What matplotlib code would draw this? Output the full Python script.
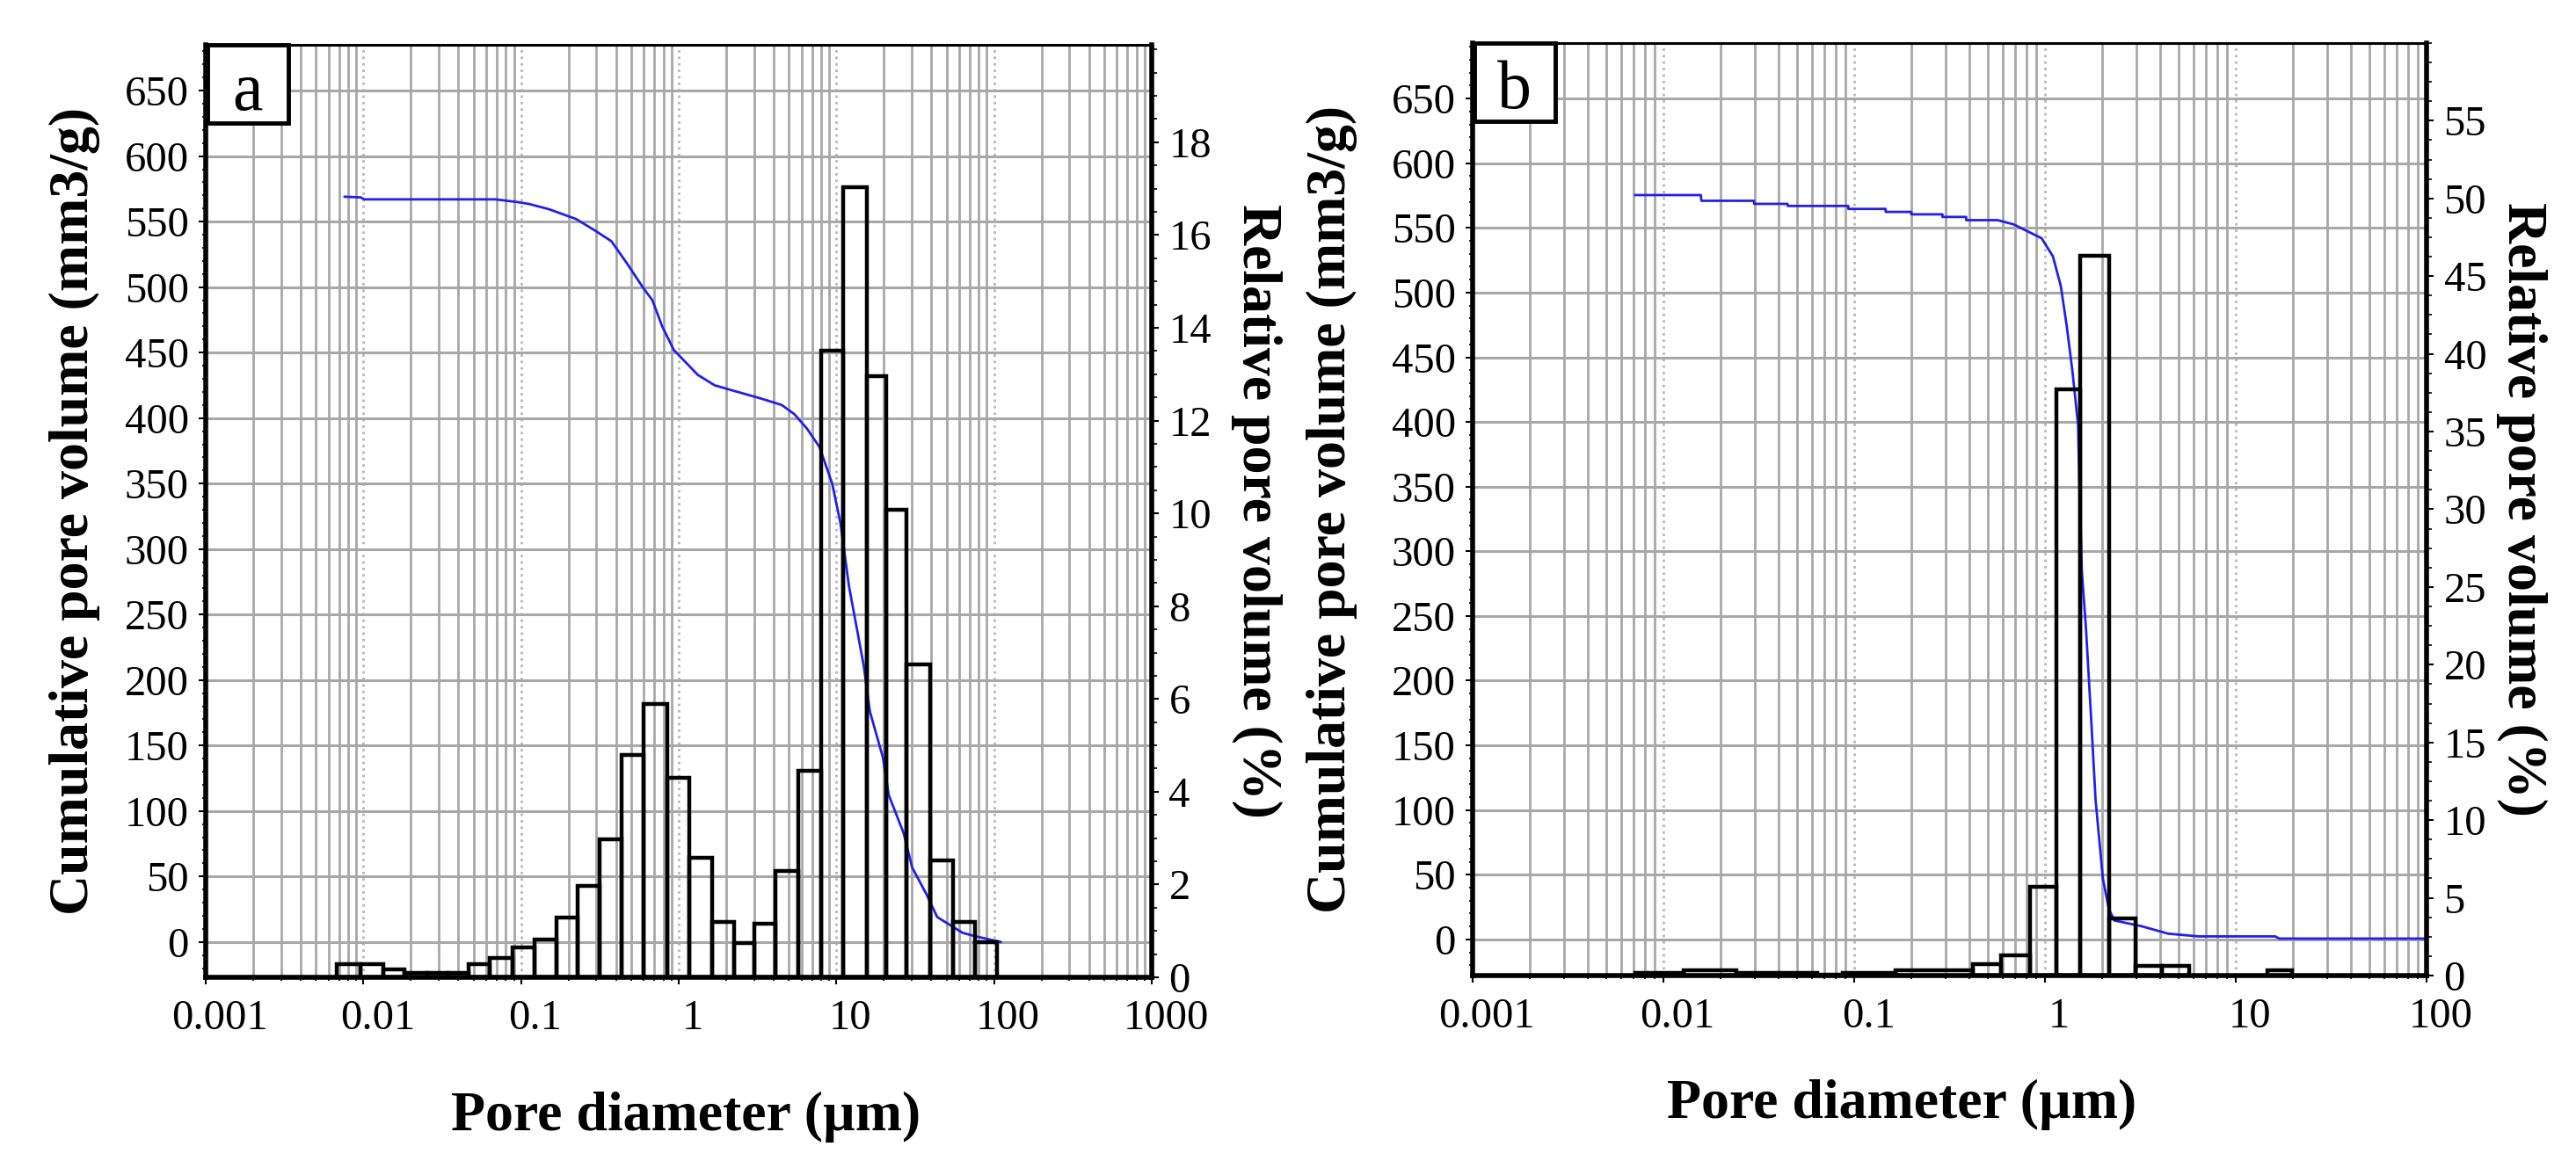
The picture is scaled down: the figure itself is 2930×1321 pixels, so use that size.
import numpy as np
import matplotlib.pyplot as plt
from matplotlib.patches import Rectangle
from matplotlib.transforms import ScaledTranslation
from matplotlib.ticker import MultipleLocator, LogLocator, FixedLocator, NullFormatter

plt.rcParams['font.family'] = ['Liberation Serif', 'DejaVu Serif']

# ---------- panel a ----------
a_edges = [0.00679, 0.00957, 0.0133, 0.0182, 0.0254, 0.0347, 0.0462, 0.0633, 0.0881,
           0.122, 0.167, 0.229, 0.314, 0.433, 0.60, 0.845, 1.17, 1.63, 2.25, 3.02,
           4.1, 5.75, 7.95, 10.96, 15.7, 20.6, 27.9, 39.1, 55.1, 75.9, 104]
a_rel = [0.29, 0.29, 0.18, 0.10, 0.10, 0.10, 0.29, 0.42, 0.65, 0.82, 1.29, 1.97,
         2.97, 4.8, 5.9, 4.3, 2.58, 1.2, 0.74, 1.16, 2.3, 4.46, 13.5, 17.04,
         12.96, 10.08, 6.74, 2.52, 1.2, 0.76]
a_cum_d = [0.0076, 0.0096, 0.0101, 0.0689, 0.094, 0.112, 0.15, 0.223, 0.296, 0.374,
           0.47, 0.59, 0.68, 0.785, 0.93, 1.32, 1.69, 2.44, 3.31, 4.5, 5.41, 6.5,
           7.8, 9.4, 10.6, 12.0, 14.9, 16.3, 19.7, 21.5, 26.7, 30.2, 37.4, 43.6,
           52.5, 63, 75.9, 110]
a_cum_v = [569, 568.5, 567, 567, 565, 563.5, 559.5, 552, 543, 535, 518, 500, 490,
           470, 452, 433, 425, 419.5, 415, 410, 403, 392, 378, 350, 320, 272, 211,
           176, 141, 112, 83, 57, 36, 19, 13, 7, 4.4, 0]

# ---------- panel b ----------
b_edges = [0.0071, 0.0127, 0.024, 0.0637, 0.0867, 0.164, 0.42, 0.59, 0.83, 1.15,
           1.53, 2.16, 2.98, 4.12, 5.69]
b_rel = [0.15, 0.35, 0.15, 0.05, 0.15, 0.35, 0.73, 1.3, 5.7, 37.7, 46.3, 3.7, 0.6, 0.6]
b_extra_edges = [14.7, 19.8]
b_extra_rel = [0.35]
b_cum_d = [0.00711, 0.0157, 0.0158, 0.0298, 0.0299, 0.0447, 0.0448, 0.093, 0.0931,
           0.146, 0.1461, 0.199, 0.1991, 0.29, 0.2901, 0.386, 0.3861, 0.565, 0.683,
           0.787, 0.96, 1.10, 1.21, 1.30, 1.39, 1.49, 1.51, 1.56, 1.64, 1.75, 1.84,
           2.01, 2.16, 2.31, 3.2, 4.42, 6.39, 16.1, 16.9, 100]
b_cum_v = [575.4, 575.4, 571, 571, 568.6, 568.6, 567, 567, 564.7, 564.7, 562.4,
           562.4, 560.5, 560.5, 558.5, 558.5, 556, 556, 552.8, 548.3, 542, 528, 505,
           474, 440, 398, 358, 284, 240, 167, 108, 47, 23.4, 14.6, 10.2, 4.4, 2.3,
           2.3, 0.6, 0.6]

fig = plt.figure(figsize=(29.3, 13.21), dpi=100)

TICK = 35
LAB = 46


def make_panel(rect, letter, xmax, ylim_l, ylim_r, r_major, r_minor,
               edges, rel, cum_d, cum_v, lab_pos, extra=None):
    ax = fig.add_axes(rect)
    ax.set_xscale('log')
    ax.set_xlim(0.001, xmax)
    ax.set_ylim(*ylim_l)
    ax.set_yticks(np.arange(0, 651, 50))
    ax.yaxis.set_minor_locator(MultipleLocator(10))
    decades = [10.0 ** k for k in range(-3, int(round(np.log10(xmax))) + 1)]
    ax.xaxis.set_major_locator(FixedLocator(decades))
    ax.set_xticklabels(['%g' % v for v in decades])
    ax.xaxis.set_minor_locator(LogLocator(base=10, subs=np.arange(2, 10), numticks=20))
    ax.xaxis.set_minor_formatter(NullFormatter())

    ax.grid(True, which='minor', axis='x', color='#a8a8a8', lw=2.0, ls='-')
    ax.grid(True, which='major', axis='x', color='#b8b8b8', lw=2.0, ls=':')
    ax.grid(True, which='major', axis='y', color='#a8a8a8', lw=2.2, ls='-')
    ax.set_axisbelow(True)

    ax.plot(cum_d, cum_v, color='#2020ee', lw=2.0, zorder=5)

    ax.tick_params(axis='y', which='major', labelsize=TICK, direction='out',
                   length=6, width=1.5, pad=8)
    ax.tick_params(axis='x', which='major', labelsize=TICK, direction='out',
                   length=6, width=1.5, pad=12)
    ax.tick_params(axis='both', which='minor', direction='out', length=3, width=1.2)
    shift = ScaledTranslation(16 / 100, 0, fig.dpi_scale_trans)
    for lab in ax.get_xticklabels():
        lab.set_transform(lab.get_transform() + shift)
    for s in ['left', 'bottom']:
        ax.spines[s].set_linewidth(4)
    ax.spines['top'].set_linewidth(2.2)
    ax.spines['right'].set_visible(False)

    ax.set_xlabel('Pore diameter (µm)', fontsize=LAB, fontweight='bold')
    ax.xaxis.set_label_coords(lab_pos[0], lab_pos[1])
    ax.xaxis.label.set_verticalalignment('center')
    ax.set_ylabel('Cumulative pore volume (mm3/g)', fontsize=LAB, fontweight='bold')
    ax.yaxis.set_label_coords(lab_pos[2], 0.5)
    ax.yaxis.label.set_verticalalignment('center')

    ax2 = ax.twinx()
    ax2.set_ylim(*ylim_r)
    ticks = np.arange(0, ylim_r[1] - 0.5 * r_major, r_major)
    ax2.set_yticks(ticks)
    ax2.set_yticklabels(['%g' % t for t in ticks])
    ax2.yaxis.set_minor_locator(MultipleLocator(r_minor))
    ax2.tick_params(axis='y', which='major', labelsize=TICK, direction='out',
                    length=6, width=1.5, pad=8)
    ax2.tick_params(axis='y', which='minor', direction='out', length=4, width=1.2)
    for s in ['left', 'top', 'bottom']:
        ax2.spines[s].set_visible(False)
    ax2.spines['right'].set_linewidth(4)

    ax2.bar(edges[:-1], rel, width=np.diff(edges), align='edge', facecolor='none',
            edgecolor='black', linewidth=3.2, zorder=3)
    if extra is not None:
        ax2.bar(extra[0][:-1], extra[1], width=np.diff(extra[0]), align='edge',
                facecolor='none', edgecolor='black', linewidth=3.2, zorder=3)
    ax2.set_ylabel('Relative pore volume (%)', fontsize=LAB, fontweight='bold',
                   rotation=270)
    ax2.yaxis.set_label_coords(lab_pos[3], 0.5)
    ax2.yaxis.label.set_verticalalignment('center')
    ax2.set_xlim(0.001, xmax)

    # letter box in the top-left corner (about 92 x 89 px)
    w_px, h_px = rect[2] * 2930, rect[3] * 1321
    bw, bh = 92 / w_px, 89 / h_px
    ax2.add_patch(Rectangle((0.0015, 1 - bh), bw, bh, transform=ax.transAxes,
                            facecolor='white', edgecolor='black', linewidth=3.5,
                            zorder=10, clip_on=False))
    ax2.text(0.0015 + bw / 2, 1 - 74 / h_px, letter, transform=ax.transAxes,
             fontsize=56, ha='center', va='baseline', zorder=11)
    return ax, ax2


make_panel([0.0799, 0.1582, 0.3672, 0.8032], 'a', 1000, (-27, 685), (0, 20.1), 2, 0.5,
           a_edges, a_rel, a_cum_d, a_cum_v, (0.507, -0.150, -0.139, 1.111))
make_panel([0.5717, 0.1597, 0.3703, 0.8033], 'b', 100, (-28, 693), (0, 60), 5, 1.25,
           b_edges, b_rel, b_cum_d, b_cum_v, (0.45, -0.138, -0.148, 1.100),
           extra=(b_extra_edges, b_extra_rel))

fig.savefig('out.png', dpi=100, facecolor='white')
